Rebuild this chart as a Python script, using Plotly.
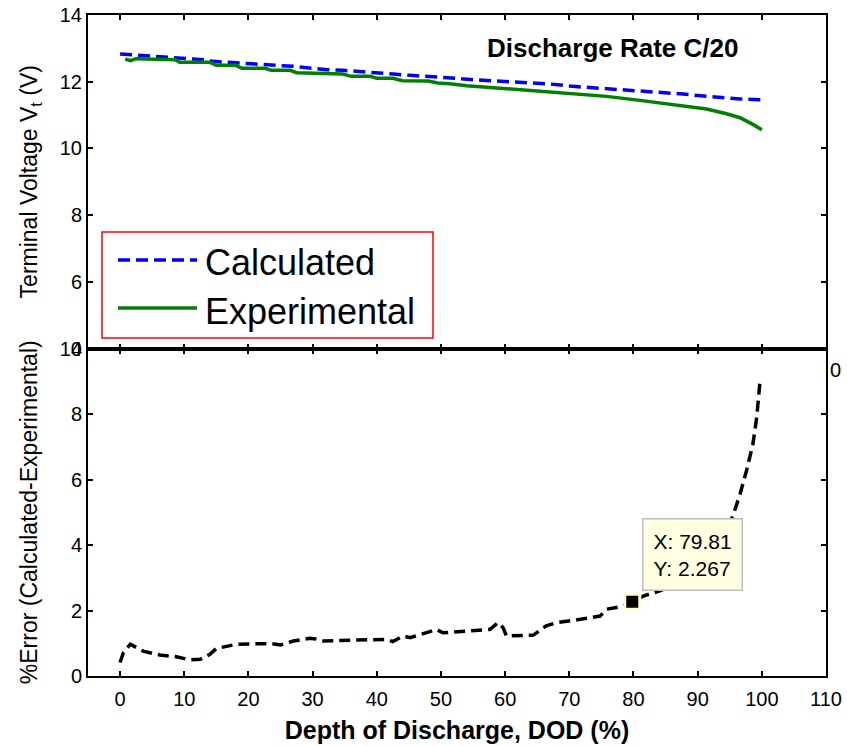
import plotly.graph_objects as go

# Depth of discharge (%) and terminal voltage (V), C/20 discharge
calc_dod = [0, 3.6, 6.2, 8.8, 11.4, 13, 14.5, 16.6, 19.2, 21.8, 24.4, 27, 29.6, 32.2,
            34.8, 37.4, 40, 42.6, 45.2, 48.3, 50.3, 55, 59.2, 62.3, 67, 70.6, 74.8,
            78.4, 83.6, 87.7, 91.4, 96.6, 100]
calc_v = [12.83, 12.79, 12.74, 12.71, 12.68, 12.66, 12.61, 12.58, 12.54, 12.52, 12.49,
          12.46, 12.41, 12.36, 12.34, 12.31, 12.26, 12.23, 12.19, 12.16, 12.13, 12.06,
          12.01, 11.96, 11.93, 11.86, 11.81, 11.76, 11.68, 11.63, 11.56, 11.48, 11.46]

exp_dod = [0.8, 1.6, 2.5, 8.6, 9.3, 14, 15, 18, 19, 22.6, 23.5, 26.5, 27.5, 29.6, 34.7,
           36, 39, 40, 42.5, 44, 48, 49.5, 51.4, 54, 58, 63.3, 67, 70.6, 75.8, 81,
           86.2, 91.4, 94.5, 96.6, 98.6, 99.7, 100]
exp_v = [12.68, 12.63, 12.69, 12.66, 12.58, 12.58, 12.49, 12.49, 12.40, 12.40, 12.34,
         12.34, 12.27, 12.26, 12.23, 12.16, 12.16, 12.10, 12.10, 12.03, 12.02, 11.96,
         11.94, 11.88, 11.82, 11.76, 11.69, 11.64, 11.56, 11.44, 11.31, 11.18, 11.04,
         10.92, 10.72, 10.57, 10.56]

# Percentage error between calculated and experimental voltage
err_dod = [0, 0.5, 1.6, 3.6, 6.2, 8.8, 10.9, 12.5, 14, 15, 18.2, 23.4, 25, 27, 29.6,
           30.5, 31.7, 37.4, 41.5, 42.5, 44.1, 45.2, 47.8, 49.3, 50.3, 57.6, 58.9, 59.7,
           60.2, 64.4, 66.4, 68, 71.7, 74.8, 75.8, 77.9, 79.81, 81.5, 84.1, 86, 88, 90,
           92, 94, 95.5, 96.6, 97.6, 98.6, 99.2, 99.7, 100]
err_pct = [0.41, 0.71, 0.97, 0.76, 0.64, 0.59, 0.49, 0.51, 0.66, 0.84, 0.97, 0.99, 0.95,
           1.07, 1.15, 1.13, 1.07, 1.09, 1.12, 1.05, 1.22, 1.17, 1.32, 1.42, 1.32, 1.42,
           1.63, 1.47, 1.22, 1.25, 1.53, 1.63, 1.73, 1.83, 2.04, 2.11, 2.267, 2.44, 2.6,
           2.75, 2.95, 3.25, 3.7, 4.3, 4.89, 5.55, 6.26, 7.07, 7.89, 8.96, 9.05]

# Highlighted data point
tip_x = [79.81]
tip_y = [2.267]

x_ticks = list(range(0, 111, 10))
v_ticks = [4, 6, 8, 10, 12, 14]
e_ticks = [0, 2, 4, 6, 8, 10]

W, H = 847, 746
ML, MR, MT, MB = 88, 21, 15, 70
PW, PH = W - ML - MR, H - MT - MB
FONT = "Liberation Sans, Arial, Helvetica, sans-serif"


def px_x(px):
    return (px - ML) / PW


def px_y(py):
    return (H - MB - py) / PH


split = px_y(348.5)

fig = go.Figure()
fig.add_trace(go.Scatter(x=calc_dod, y=calc_v, mode="lines", name="Calculated",
                         line=dict(color="#0000FF", width=3.5, dash="12px,6px"),
                         xaxis="x", yaxis="y", showlegend=False))
fig.add_trace(go.Scatter(x=exp_dod, y=exp_v, mode="lines", name="Experimental",
                         line=dict(color="#008000", width=3.5),
                         xaxis="x", yaxis="y", showlegend=False))
fig.add_trace(go.Scatter(x=err_dod, y=err_pct, mode="lines", name="%Error",
                         line=dict(color="black", width=3.5, dash="11px,6px"),
                         xaxis="x2", yaxis="y2", showlegend=False))
fig.add_trace(go.Scatter(x=tip_x, y=tip_y, mode="markers",
                         marker=dict(symbol="square", size=15, color="black",
                                     line=dict(color="#FFFFD0", width=3)),
                         xaxis="x2", yaxis="y2", showlegend=False))

axis_common = dict(showline=True, linecolor="black", linewidth=2, mirror="ticks",
                   ticks="inside", ticklen=5, tickwidth=1.5, tickcolor="black",
                   showgrid=False, zeroline=False,
                   tickfont=dict(family=FONT, size=20, color="black"))

fig.update_layout(
    width=W, height=H,
    margin=dict(l=ML, r=MR, t=MT, b=MB, autoexpand=False),
    paper_bgcolor="white", plot_bgcolor="white",
    xaxis=dict(domain=[0, 1], anchor="y", range=[-5, 110], tickvals=x_ticks,
               showticklabels=False, **axis_common),
    yaxis=dict(domain=[split, 1], anchor="x", range=[4, 14], tickvals=v_ticks,
               title=dict(text="Terminal Voltage V<sub>t</sub> (V)", standoff=16,
                          font=dict(family=FONT, size=23, color="black")),
               **axis_common),
    xaxis2=dict(domain=[0, 1], anchor="y2", range=[-5, 110], tickvals=x_ticks,
                ticklabelstandoff=4,
                title=dict(text="<b>Depth of Discharge, DOD (%)</b>", standoff=12,
                           font=dict(family=FONT, size=25, color="black")),
                **axis_common),
    yaxis2=dict(domain=[0, split], anchor="x2", range=[0, 10], tickvals=e_ticks,
                title=dict(text="%Error (Calculated-Experimental)", standoff=16,
                           font=dict(family=FONT, size=23, color="black")),
                **axis_common),
)

# Legend drawn as a framed box with long line samples
fig.add_shape(type="rect", xref="paper", yref="paper",
              x0=px_x(102), x1=px_x(433), y0=px_y(338), y1=px_y(232),
              line=dict(color="#FF0000", width=1.5), fillcolor="white")
fig.add_shape(type="line", xref="paper", yref="paper",
              x0=px_x(118), x1=px_x(197), y0=px_y(260), y1=px_y(260),
              line=dict(color="#0000FF", width=3.5, dash="12px,6px"))
fig.add_shape(type="line", xref="paper", yref="paper",
              x0=px_x(118), x1=px_x(197), y0=px_y(308), y1=px_y(308),
              line=dict(color="#008000", width=3.5))
for label, yc in (("Calculated", 262), ("Experimental", 311)):
    fig.add_annotation(text=label, xref="paper", yref="paper", x=px_x(203), y=px_y(yc),
                       xanchor="left", yanchor="middle", showarrow=False,
                       font=dict(family=FONT, size=36, color="black"))

fig.add_annotation(text="<b>Discharge Rate C/20</b>", xref="paper", yref="paper",
                   x=px_x(612), y=px_y(48), xanchor="center", yanchor="middle",
                   showarrow=False, font=dict(family=FONT, size=26, color="black"))

fig.add_annotation(text="0", xref="paper", yref="paper", x=px_x(835), y=px_y(370),
                   xanchor="center", yanchor="middle", showarrow=False,
                   font=dict(family=FONT, size=20, color="black"))

# Data tip for the highlighted point
fig.add_annotation(text="X: 79.81<br>Y: 2.267", x=tip_x[0], y=tip_y[0], xref="x2", yref="y2",
                   xanchor="left", yanchor="bottom", xshift=10, yshift=11, align="left",
                   showarrow=False, bgcolor="#FFFFE1", bordercolor="#BEBEBE",
                   borderwidth=1.5, borderpad=10,
                   font=dict(family=FONT, size=21, color="black"))

fig.write_html("out.html")
